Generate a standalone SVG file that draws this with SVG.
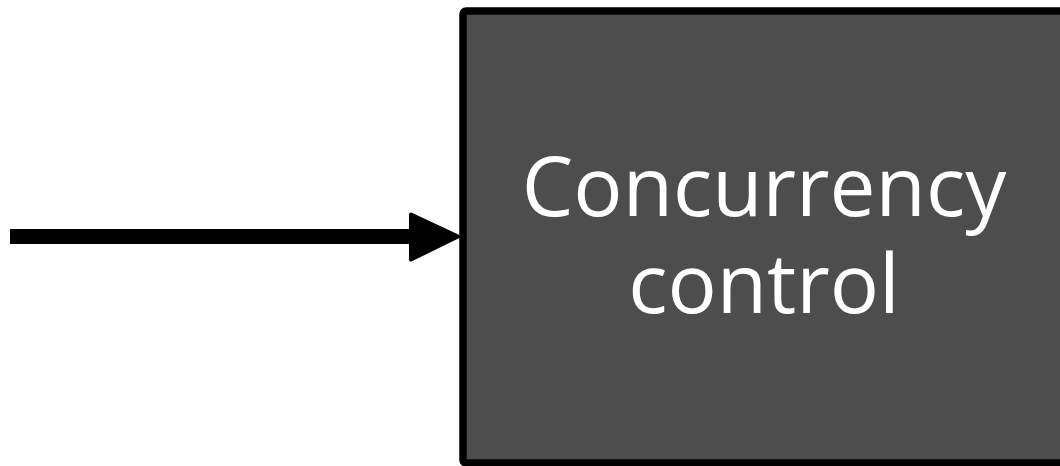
<svg xmlns="http://www.w3.org/2000/svg" width="1060" height="466" viewBox="0 0 1060 466">
  <style>
    .box { fill: #4d4d4d; stroke: #000000; stroke-width: 7.5; }
    .label { font-family: "Open Sans", "Noto Sans", sans-serif; font-size: 82px; fill: #ffffff; text-anchor: middle; }
    .edge { stroke: #000000; stroke-width: 15; fill: none; }
    .head { fill: #000000; stroke: #000000; stroke-width: 4; stroke-linejoin: round; }
  </style>
  <rect width="1060" height="466" fill="#ffffff"/>
  <g id="node-concurrency-control">
    <rect class="box" x="463" y="11" width="604" height="452" rx="3"/>
    <text class="label" x="764" y="216">Concurrency<tspan x="764" dy="97">control</tspan></text>
  </g>
  <g id="connectors">
    <line class="edge" x1="10" y1="236.5" x2="415" y2="236.5"/>
    <polygon class="head" points="411,214.5 458,236.5 411,259.5"/>
  </g>
</svg>
